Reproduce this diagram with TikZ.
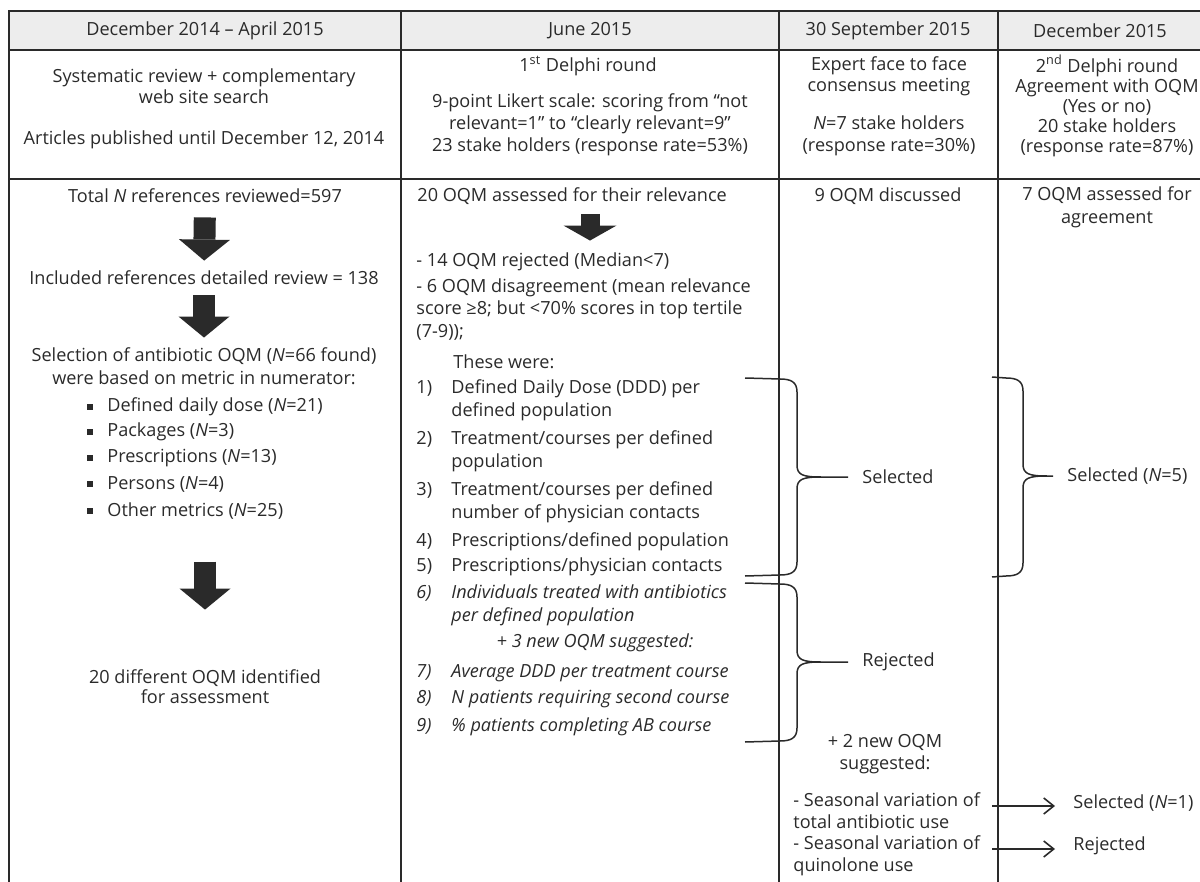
\documentclass[tikz,border=0pt]{standalone}
\usepackage{fontspec}
\setmainfont{Open Sans}
\usepackage{xcolor}
\usetikzlibrary{positioning, arrows.meta, calc}
\definecolor{ink}{HTML}{2A2A2A}
\definecolor{hdrgray}{HTML}{EDEDED}
\newcommand{\itemno}[1]{\makebox[17.5pt][l]{#1}}
\newcommand{\subind}{\hspace*{17.5pt}}
% curly brace: top end, tip, bottom end, tip depth
\newcommand{\curlybrace}[4]{%
  \draw[brace] (#1) -- ($(#1-|#2)+(-#4-17,1)$)
    .. controls +(11,0) and +(0,-10) .. ($(#1-|#2)+(-#4,14)$)
    -- ($(#2)+(-#4,-12)$)
    .. controls +(0,10) and +(-18,0) .. ($(#2)+(-#4+24,0)$) -- (#2)
    -- ($(#2)+(-#4+24,0)$)
    .. controls +(-18,0) and +(0,-10) .. ($(#2)+(-#4,12)$)
    -- ($(#3-|#2)+(-#4,-14)$)
    .. controls +(0,10) and +(11,0) .. ($(#3-|#2)+(-#4-17,-1)$) -- (#3);}
\tikzset{
  txt/.style={inner sep=0pt, align=center, text=ink, font=\fontsize{9.05}{11}\selectfont},
  lft/.style={txt, align=left, anchor=west},
  lst/.style={lft, font=\fontsize{9.05}{11.5}\selectfont},
  itlst/.style={lft, font=\fontsize{9.05}{11.5}\selectfont\itshape},
  rule/.style={draw=ink, line width=1pt},
  bigarr/.style={-{Triangle[length=10.5pt, width=25.5pt, line width=0pt]}, line width=11pt, draw=ink},
  smallarr/.style={-{Triangle[length=7.5pt, width=26.5pt, line width=0pt]}, line width=9.5pt, draw=ink},
  brace/.style={draw=ink, line width=0.75pt},
  thinarr/.style={-{Straight Barb[length=5pt, width=8pt]}, draw=ink, line width=0.8pt},
  bullet/.style={fill=ink, inner sep=0pt, minimum size=3pt},
}

\begin{document}
\begin{tikzpicture}[x=0.5pt, y=-0.5pt]
  \useasboundingbox (0,0) rectangle (1200,882);

  %% === Table grid ===
  \fill[hdrgray] (9,11) rectangle (1200,50);
  \draw[rule] (1200,11) -- (9,11) -- (9,882);
  \draw[rule] (9,50) -- (1200,50);
  \draw[rule] (9,179) -- (1200,179);
  \draw[rule] (401,11) -- (401,882);
  \draw[rule] (779,11) -- (779,882);
  \draw[rule] (998,11) -- (998,882);

  % Row 1: dates
  \node[txt] at (205,31) (date1) {December 2014 -- April 2015};
  \node[txt] at (590,31) (date2) {June 2015};
  \node[txt] at (888,31) (date3) {30 September 2015};
  \node[txt] at (1100,31) (date4) {December 2015};

  % Row 2: methods
  \node[txt, font=\fontsize{9.05}{10.5}\selectfont] at (204,86.5) (sysrev) {Systematic review + complementary\\web site search};
  \node[txt] at (204,140) (articles) {Articles published until December 12, 2014};
  \node[txt] at (588,66) (delphi1) {1\textsuperscript{st} Delphi round};
  \node[txt] at (590,125) (likert)
    {9-point Likert scale: scoring from “not\\relevant=1” to “clearly relevant=9”\\23 stake holders (response rate=53\%)};
  \node[txt, font=\fontsize{9.05}{10.5}\selectfont] at (889,76.5) (expert) {Expert face to face\\consensus meeting};
  \node[txt] at (889,136) (stake3) {\textit{N}=7 stake holders\\(response rate=30\%)};
  \node[txt, font=\fontsize{9.05}{10}\selectfont] at (1107,106) (delphi2)
    {2\textsuperscript{nd} Delphi round\\Agreement with OQM\\(Yes or no)\\20 stake holders\\(response rate=87\%)};

  %% === Column 1: literature review ===
  \node[txt] at (205,196) (total) {Total \textit{N} references reviewed=597};
  \node[txt] at (204,278) (incl) {Included references detailed review = 138};
  \node[txt, font=\fontsize{9.05}{11.5}\selectfont] at (204,366.5) (select)
    {Selection of antibiotic OQM (\textit{N}=66 found)\\were based on metric in numerator:};
  \node[lft] at (107,407) (m1) {Defined daily dose (\textit{N}=21)};
  \node[lft] at (107,432) (m2) {Packages (\textit{N}=3)};
  \node[lft] at (107,458) (m3) {Prescriptions (\textit{N}=13)};
  \node[lft] at (107,484) (m4) {Persons (\textit{N}=4)};
  \node[lft] at (107,511) (m5) {Other metrics (\textit{N}=25)};
  \node[bullet] at (90,407) (q1) {};
  \node[bullet] at (90,432) (q2) {};
  \node[bullet] at (90,458) (q3) {};
  \node[bullet] at (90,484) (q4) {};
  \node[bullet] at (90,511) (q5) {};
  \node[txt, font=\fontsize{9.05}{10}\selectfont] at (205,687) (ident) {20 different OQM identified\\for assessment};

  \draw[bigarr, shorten <=7pt, shorten >=5pt] (total.south) -- (incl.north);
  \draw[bigarr, shorten <=5pt, shorten >=5pt] (incl.south) -- (select.north);
  \draw[bigarr, shorten <=21pt, shorten >=30pt] (m5.south -| ident) -- (ident.north);

  %% === Column 2: first Delphi round ===
  \coordinate (c2arr) at (590,0);
  \node[lft] at (417,196) (relev) {20 OQM assessed for their relevance};
  \node[lft] at (416,262) (rej14) {- 14 OQM rejected (Median<7)};
  \node[lft, font=\fontsize{9.05}{11.25}\selectfont] at (416,309.5) (disag)
    {- 6 OQM disagreement (mean relevance\\score ≥8; but <70\% scores in top tertile\\(7-9));};
  \draw[smallarr, shorten <=4.5pt, shorten >=6pt] (relev.south -| c2arr) -- (rej14.north -| c2arr);

  \node[lft] at (453,362) (these) {These were:};
  \node[lst] at (416,400.5) (i1) {\itemno{1)}Defined Daily Dose (DDD) per\\\subind defined population};
  \node[lst] at (416,451) (i2) {\itemno{2)}Treatment/courses per defined\\\subind population};
  \node[lst] at (416,502) (i3) {\itemno{3)}Treatment/courses per defined\\\subind number of physician contacts};
  \node[lst] at (416,542) (i4) {\itemno{4)}Prescriptions/defined population};
  \node[lst] at (416,567) (i5) {\itemno{5)}Prescriptions/physician contacts};
  \node[itlst] at (416,605) (i6) {\itemno{6)}Individuals treated with antibiotics\\\subind per defined population};
  \node[txt, font=\fontsize{9.05}{11}\selectfont\itshape] at (595,643) (new3) {+ 3 new OQM suggested:};
  \node[itlst] at (416,673) (i7) {\itemno{7)}Average DDD per treatment course};
  \node[itlst] at (416,699) (i8) {\itemno{8)}N patients requiring second course};
  \node[itlst] at (416,727) (i9) {\itemno{9)}\% patients completing AB course};

  %% === Column 3: consensus meeting ===
  \node[txt] at (888,196) (disc) {9 OQM discussed};
  \coordinate (b1top) at (745,378);
  \coordinate (b1tip) at (848,477);
  \coordinate (b1bot) at (745,576);
  \coordinate (b2top) at (745,583);
  \coordinate (b2tip) at (848,662);
  \coordinate (b2bot) at (745,742);
  \node[lft, right=7pt of b1tip] (sel3) {Selected};
  \node[lft, right=7pt of b2tip] (rej3) {Rejected};
  \curlybrace{b1top}{b1tip}{b1bot}{51}
  \curlybrace{b2top}{b2tip}{b2bot}{51}

  \node[txt] at (885,754) (new2) {+ 2 new OQM\\suggested:};
  \node[lft] at (793,811) (seas1) {- Seasonal variation of\\total antibiotic use};
  \node[lft] at (793,856) (seas2) {- Seasonal variation of\\quinolone use};

  %% === Column 4: second Delphi round ===
  \node[txt, font=\fontsize{9.05}{11.5}\selectfont] at (1107,207.5) (agree) {7 OQM assessed for\\agreement};
  \coordinate (b3top) at (992,377);
  \coordinate (b3tip) at (1053,476);
  \coordinate (b3bot) at (992,577);
  \node[lft, right=7pt of b3tip] (sel4) {Selected (\textit{N}=5)};
  \curlybrace{b3top}{b3tip}{b3bot}{30}

  \coordinate (a1) at (992,806);
  \coordinate (a2) at (992,849);
  \node[lft] at (1073,803) (sel5) {Selected (\textit{N}=1)};
  \node[lft] at (1073,846) (rej5) {Rejected};
  \draw[thinarr, shorten >=9pt] (a1) -- (sel5.west |- a1);
  \draw[thinarr, shorten >=9pt] (a2) -- (rej5.west |- a2);

\end{tikzpicture}
\end{document}
